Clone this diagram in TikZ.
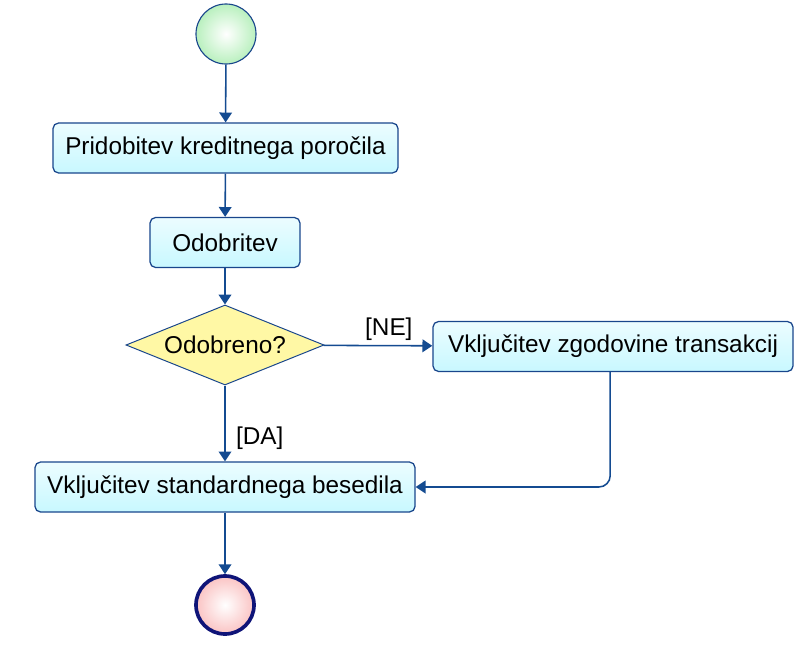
\documentclass[tikz,border=0pt]{standalone}
\usepackage{fontspec}
\setmainfont{Liberation Sans}
\usepackage{xcolor}
\usepackage{tikz}
\usetikzlibrary{arrows.meta,positioning,shapes.geometric,calc}
\definecolor{bordure}{RGB}{25,70,140}
\definecolor{fleche}{RGB}{20,75,145}
\definecolor{cyanclair}{RGB}{200,248,255}
\definecolor{jaune}{RGB}{255,248,165}
\definecolor{vertclair}{RGB}{185,240,190}
\definecolor{roseclair}{RGB}{250,195,195}
\definecolor{marine}{RGB}{15,20,120}

\begin{document}
\begin{tikzpicture}[x=0.025cm,y=-0.025cm,
    every node/.style={font=\fontsize{17.3}{20}\selectfont},
    action/.style={draw=bordure,line width=0.9pt,rounded corners=4pt,
      top color=cyanclair!35,bottom color=cyanclair,minimum height=1.25cm},
    choix/.style={diamond,aspect=2.5,draw=bordure,line width=0.7pt,fill=jaune,
      inner sep=0pt,minimum width=4.95cm,minimum height=2cm},
    debut/.style={circle,draw=bordure,line width=0.8pt,minimum size=1.5cm,
      inner color=white,outer color=vertclair},
    fin/.style={circle,draw=marine,line width=2.6pt,minimum size=1.45cm,
      inner color=white,outer color=roseclair},
    lien/.style={draw=fleche,line width=1.1pt,-{Triangle[width=9pt,length=7pt]}},
    garde/.style={text=black}]
  \useasboundingbox (0,0) rectangle (800,644);
  % noeuds
  \node[debut] (start) at (226,34) {};
  \node[action,minimum width=8.625cm] (credit) at (225.5,148) {Pridobitev kreditnega poročila};
  \node[action,minimum width=3.75cm] (odob) at (225,242.5) {Odobritev};
  \node[choix] (ok) at (225,345) {Odobreno?};
  \node[action,minimum width=9cm] (zgod) at (613,346.5) {Vključitev zgodovine transakcij};
  \node[action,minimum width=9.5cm] (std) at (225,487) {Vključitev standardnega besedila};
  \node[fin] (stop) at (225,605) {};
  % povezave
  \draw[lien] (start) -- (credit);
  \draw[lien] (credit) -- (odob);
  \draw[lien] (odob) -- (ok);
  \draw[lien] (ok) -- node[garde,above,pos=0.6] {[NE]} (zgod);
  \draw[lien] (ok) -- node[garde,right,pos=0.7,xshift=4pt] {[DA]} (std);
  \draw[lien,rounded corners=8pt] ([xshift=-2pt]zgod.south) |- (std.east);
  \draw[lien] (std) -- (stop);
\end{tikzpicture}
\end{document}
